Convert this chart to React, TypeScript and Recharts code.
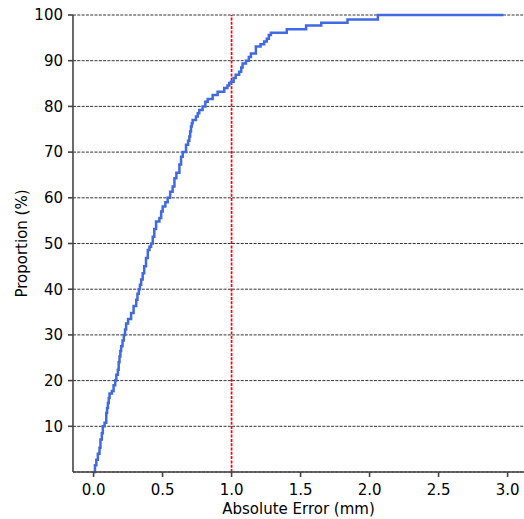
import {
    LineChart, Line, XAxis, YAxis, CartesianGrid, ReferenceLine
} from 'recharts';

const errorMm = [
    0.000, 0.010, 0.020, 0.031, 0.043, 0.050, 0.060, 0.067, 0.080, 0.092,
    0.098, 0.104, 0.110, 0.116, 0.133, 0.145, 0.157, 0.165, 0.176, 0.182,
    0.188, 0.194, 0.200, 0.210, 0.219, 0.228, 0.236, 0.250, 0.272, 0.290,
    0.309, 0.318, 0.328, 0.336, 0.345, 0.356, 0.367, 0.380, 0.393, 0.405,
    0.417, 0.429, 0.440, 0.453, 0.477, 0.490, 0.501, 0.520, 0.537, 0.555,
    0.573, 0.586, 0.600, 0.622, 0.634, 0.646, 0.670, 0.685, 0.694, 0.700,
    0.706, 0.712, 0.718, 0.742, 0.755, 0.766, 0.790, 0.810, 0.827, 0.863,
    0.899, 0.947, 0.970, 0.983, 0.996, 1.015, 1.030, 1.055, 1.070, 1.080,
    1.104, 1.125, 1.140, 1.176, 1.210, 1.236, 1.255, 1.270, 1.285, 1.400,
    1.540, 1.650, 1.840, 2.060, 2.970,
];
const proportion = [
    0, 1.5, 2.7, 4, 5.3, 7.1, 8.5, 10, 10.8, 12.9,
    14, 15.1, 16.2, 17.2, 17.7, 19, 20, 21.3, 22.4, 24,
    25.3, 26.5, 27.5, 28.8, 30, 31.2, 32.5, 33.5, 34.8, 36.3,
    37.7, 39, 40, 41, 42.1, 43.5, 45, 46.8, 48.6, 49.3,
    50, 51.5, 53.2, 54.8, 55.6, 57, 58.1, 59, 60, 61.3,
    62.5, 64.3, 65.5, 67.3, 69, 70, 71.6, 72.5, 73.4, 74.5,
    75.6, 76.3, 77, 77.8, 78.5, 79.2, 80, 81, 81.6, 82.5,
    83.2, 84, 84.6, 85.1, 85.4, 86.2, 86.9, 87.6, 88.5, 89.4,
    90, 90.8, 91.6, 93.1, 93.6, 94.2, 94.8, 95.6, 96.1, 96.9,
    97.7, 98.3, 99.0, 100, 100,
];
const xTicks = [0, 0.5, 1, 1.5, 2, 2.5, 3];
const yTicks = [10, 20, 30, 40, 50, 60, 70, 80, 90, 100];
const threshold = 1.0;

const data = errorMm.map((x, i) => ({ x, p: proportion[i] }));

const font = 'DejaVu Sans, sans-serif';
const tickStyle = { fontSize: 15, fill: '#000', fontFamily: font };
const spine = { stroke: '#444', strokeWidth: 1.6 };

const App = () => {
    return (
        <div style={{ position: 'absolute', left: 0, top: 0, background: '#fff' }}>
            <LineChart width={524} height={519} data={data}
                margin={{ top: 15, right: 0, left: 0, bottom: 0 }}>
                <CartesianGrid vertical={false} stroke="#000" strokeWidth={0.8}
                    strokeDasharray="3 1.3" />
                <XAxis
                    type="number"
                    dataKey="x"
                    domain={[-0.149, 3.119]}
                    ticks={xTicks}
                    tickFormatter={(v: number) => v.toFixed(1)}
                    height={47}
                    tick={tickStyle}
                    axisLine={spine}
                    tickLine={spine}
                    tickSize={5}
                    tickMargin={7}
                    allowDataOverflow
                    label={{ value: 'Absolute Error (mm)', position: 'insideBottom', offset: 5,
                        style: { fontSize: 15, fill: '#000', fontFamily: font } }}
                />
                <YAxis
                    type="number"
                    domain={[0, 100]}
                    ticks={yTicks}
                    width={73}
                    tick={tickStyle}
                    axisLine={spine}
                    tickLine={spine}
                    tickSize={5}
                    tickMargin={5}
                    label={{ value: 'Proportion (%)', angle: -90, position: 'insideLeft', offset: 22,
                        style: { fontSize: 15, fill: '#000', fontFamily: font, textAnchor: 'middle' } }}
                />
                <ReferenceLine x={threshold} stroke="#ff0000" strokeWidth={1.7}
                    strokeDasharray="3 1.3" />
                <Line
                    type="stepAfter"
                    dataKey="p"
                    stroke="#4169e1"
                    strokeWidth={2.5}
                    dot={false}
                    isAnimationActive={false}
                />
            </LineChart>
        </div>
    );
};

export default App;
